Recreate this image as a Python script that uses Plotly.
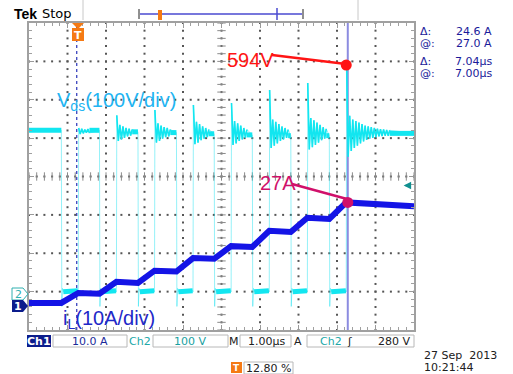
import plotly.graph_objects as go

# ---------------- data ----------------
T_START, T_END = -1.28, 8.72          # time window, microseconds (1 us/div, trigger 12.8 %)
PRE_HIGH_V = 424                       # Vds level before the first falling edge
RISE_T = [0.00, 0.99, 1.98, 2.98, 3.97, 4.96, 5.95, 6.96]     # Vds rising edges (us)
FALL_T = [-0.44, 0.55, 1.55, 2.55, 3.53, 4.52, 5.52, 6.52]    # Vds falling edges (us)
SPIKE_V = [430, 463, 477, 490, 495, 529, 547, 594]            # turn-off overshoot peaks (V)
HIGH_V = [424, 420, 418, 415, 412, 410, 410, 416]             # Vds plateau after each rise (V)
RING_V = [
    [414, 428, 416, 426, 418, 427, 417],
    [396, 438, 400, 434, 404, 430, 408, 428, 410, 426],
    [392, 442, 396, 436, 402, 432, 406, 430, 408, 426],
    [388, 446, 392, 440, 398, 434, 402, 430, 406, 426],
    [386, 448, 390, 442, 396, 436, 400, 430, 404, 426],
    [378, 452, 384, 446, 390, 440, 396, 434, 400, 430, 404, 426],
    [374, 456, 380, 450, 386, 444, 392, 438, 398, 432, 402, 428],
    [355, 462, 370, 452, 378, 448, 384, 444, 390, 440, 395, 436,
     399, 434, 402, 432, 404, 430, 406, 428, 408, 427, 409, 426,
     410, 425, 410, 424],
]
RING_DT = 0.04
LOW_V = 3
FALL_DIP_V = -35

I_T = [-1.28, -0.44, 0.00, 0.55, 0.99, 1.55, 1.98, 2.55, 2.98, 3.53,
       3.97, 4.52, 4.96, 5.52, 5.95, 6.52, 6.96, 8.72]
I_A = [0.8, 0.8, 3.4, 3.2, 6.3, 6.0, 9.2, 9.0, 12.5, 12.3,
       15.6, 15.4, 19.6, 19.3, 23.0, 22.7, 27.0, 26.0]

PEAK_LABEL_V = 594
PEAK_LABEL_A = 27
CURSOR_T = [7.00, -0.04]
TRIG_LEVEL_V = 280

CYAN = "#12e6f0"
CYAN_FAINT = "rgba(20,225,240,0.45)"
BLUE = "#1414e6"

# ---------------- build Vds waveform from key points ----------------
vt, vv = [T_START], [PRE_HIGH_V]
rt, rv = [], []                      # spikes + ringing
pt, pv = [T_START], [PRE_HIGH_V]     # plateaus (thick band)
prev_high = PRE_HIGH_V
for i in range(len(RISE_T)):
    f, r = FALL_T[i], RISE_T[i]
    vt += [f, f + 0.012, f + 0.03, f + 0.06, r - 0.01]
    vv += [prev_high, FALL_DIP_V, 12, LOW_V, LOW_V + 4]
    pt += [f, None, f + 0.05, r - 0.01, None]
    pv += [prev_high, None, LOW_V, LOW_V + 3, None]
    vt += [r, r + 0.01]
    vv += [LOW_V, SPIKE_V[i]]
    rt += [r + 0.01]
    rv += [SPIKE_V[i]]
    for k, val in enumerate(RING_V[i]):
        vt.append(r + 0.01 + (k + 1) * RING_DT)
        vv.append(val)
        rt.append(r + 0.01 + (k + 1) * RING_DT)
        rv.append(val)
    rt.append(None)
    rv.append(None)
    ring_end = r + 0.01 + len(RING_V[i]) * RING_DT
    pt += [ring_end]
    pv += [HIGH_V[i]]
    prev_high = HIGH_V[i]
vt.append(T_END)
vv.append(prev_high)
pt.append(T_END)
pv.append(prev_high)

# ---------------- geometry helpers (pixel -> paper) ----------------
L, R, T, B = 29, 414, 23, 330
def PX(x):
    return (x - L) / (R - L)
def PY(y):
    return (B - y) / (B - T)

fig = go.Figure()

# dotted graticule (decoration, division units): dots every 0.2 div along each grid line
gx_pts, gy_pts = [], []
for gx in range(-4, 5):
    for k in range(-20, 21):
        gx_pts.append(gx)
        gy_pts.append(k * 0.2)
for gy in range(-3, 4):
    for k in range(-25, 26):
        gx_pts.append(k * 0.2)
        gy_pts.append(gy)
fig.add_trace(go.Scatter(x=gx_pts, y=gy_pts, mode="markers",
                         marker=dict(symbol="square", size=2, color="#555555", line=dict(width=0)),
                         xaxis="x", yaxis="y", hoverinfo="skip"))
# centre-line tick marks
fig.add_trace(go.Scatter(x=[k * 0.2 for k in range(-25, 26)], y=[0] * 51, mode="markers",
                         marker=dict(symbol="line-ns", size=6, line=dict(width=1, color="#8a8a8a")),
                         xaxis="x", yaxis="y", hoverinfo="skip"))
fig.add_trace(go.Scatter(x=[0] * 41, y=[k * 0.2 for k in range(-20, 21)], mode="markers",
                         marker=dict(symbol="line-ew", size=6, line=dict(width=1, color="#8a8a8a")),
                         xaxis="x", yaxis="y", hoverinfo="skip"))

# Vds
fig.add_trace(go.Scatter(x=vt, y=vv, mode="lines", line=dict(color=CYAN_FAINT, width=1),
                         xaxis="x2", yaxis="y2", hoverinfo="skip"))
fig.add_trace(go.Scatter(x=pt, y=pv, mode="lines", line=dict(color=CYAN, width=5),
                         xaxis="x2", yaxis="y2", hoverinfo="skip", connectgaps=False))
fig.add_trace(go.Scatter(x=rt, y=rv, mode="lines", line=dict(color=CYAN, width=1.6),
                         xaxis="x2", yaxis="y2", hoverinfo="skip", connectgaps=False))
# iL
fig.add_trace(go.Scatter(x=I_T, y=I_A, mode="lines", line=dict(color=BLUE, width=6),
                         xaxis="x2", yaxis="y3", hoverinfo="skip"))

# annotation dots
fig.add_trace(go.Scatter(x=[RISE_T[-1]], y=[PEAK_LABEL_V], mode="markers",
                         marker=dict(color="#ff1414", size=11), xaxis="x2", yaxis="y2"))
fig.add_trace(go.Scatter(x=[CURSOR_T[0]], y=[PEAK_LABEL_A], mode="markers",
                         marker=dict(color="#d0106a", size=11), xaxis="x2", yaxis="y3"))

shapes = []
# cursors
shapes.append(dict(type="line", xref="x2", yref="paper", x0=CURSOR_T[0], x1=CURSOR_T[0], y0=0, y1=1,
                   line=dict(color="#8c8ce0", width=2), layer="below"))
shapes.append(dict(type="line", xref="x2", yref="paper", x0=CURSOR_T[1], x1=CURSOR_T[1], y0=0, y1=1,
                   line=dict(color="#2a34b8", width=1.2, dash="3px,3px"), layer="below"))
# annotation leader lines
shapes.append(dict(type="line", xref="paper", yref="paper", x0=PX(272), y0=PY(55), x1=PX(346), y1=PY(64),
                   line=dict(color="#ff1414", width=2.5)))
shapes.append(dict(type="line", xref="paper", yref="paper", x0=PX(292), y0=PY(184), x1=PX(347), y1=PY(199),
                   line=dict(color="#d0106a", width=2.5)))
# trigger T marker (top)
shapes.append(dict(type="path", xref="paper", yref="paper",
                   path=f"M {PX(72)},{PY(23)} L {PX(84)},{PY(23)} L {PX(78)},{PY(29)} Z",
                   fillcolor="#f57a14", line=dict(width=0)))
shapes.append(dict(type="rect", xref="paper", yref="paper", x0=PX(72), x1=PX(84), y0=PY(28), y1=PY(41),
                   fillcolor="#f57a14", line=dict(width=0)))
# channel ground markers
shapes.append(dict(type="path", xref="paper", yref="paper",
                   path=f"M {PX(12)},{PY(288)} L {PX(23)},{PY(288)} L {PX(28)},{PY(294)} L {PX(23)},{PY(300)} L {PX(12)},{PY(300)} Z",
                   fillcolor="white", line=dict(color="#30b0b0", width=1)))
shapes.append(dict(type="path", xref="paper", yref="paper",
                   path=f"M {PX(12)},{PY(300)} L {PX(23)},{PY(300)} L {PX(28)},{PY(306)} L {PX(23)},{PY(312)} L {PX(12)},{PY(312)} Z",
                   fillcolor="#0b1c8c", line=dict(width=0)))
# top bar
for xx in (83, 358):
    shapes.append(dict(type="line", xref="paper", yref="paper", x0=PX(xx), x1=PX(xx), y0=PY(0), y1=PY(20),
                       line=dict(color="#c8c8c8", width=1)))
shapes.append(dict(type="line", xref="paper", yref="paper", x0=PX(140), x1=PX(302), y0=PY(14), y1=PY(14),
                   line=dict(color="#4a4ad0", width=1.5)))
for xx in (139, 303):
    shapes.append(dict(type="line", xref="paper", yref="paper", x0=PX(xx), x1=PX(xx), y0=PY(9), y1=PY(19),
                       line=dict(color="#202020", width=1)))
shapes.append(dict(type="line", xref="paper", yref="paper", x0=PX(277), x1=PX(277), y0=PY(8), y1=PY(20),
                   line=dict(color="#4a4ad0", width=1.5)))
shapes.append(dict(type="rect", xref="paper", yref="paper", x0=PX(158), x1=PX(162), y0=PY(10), y1=PY(20),
                   fillcolor="#f57a14", line=dict(width=0)))
# status bar boxes
shapes.append(dict(type="rect", xref="paper", yref="paper", x0=PX(27), x1=PX(51), y0=PY(335), y1=PY(347),
                   fillcolor="#0b1c8c", line=dict(width=0)))
for x0, x1 in ((53, 127), (153, 228), (240, 291), (307, 414), (244, 293)):
    yy0, yy1 = (335, 347) if x0 != 244 else (362, 374)
    shapes.append(dict(type="rect", xref="paper", yref="paper", x0=PX(x0), x1=PX(x1), y0=PY(yy0), y1=PY(yy1),
                       fillcolor="white", line=dict(color="#b8b8b8", width=1)))
shapes.append(dict(type="rect", xref="paper", yref="paper", x0=PX(231), x1=PX(242), y0=PY(362), y1=PY(373),
                   fillcolor="#f57a14", line=dict(width=0)))

ann = []
def txt(x, y, s, color="#1a1a9a", size=12, anchor="left", family="DejaVu Sans", bold=False):
    ann.append(dict(xref="paper", yref="paper", x=PX(x), y=PY(y), text=f"<b>{s}</b>" if bold else s,
                    showarrow=False, xanchor=anchor, yanchor="middle",
                    font=dict(color=color, size=size, family=family)))

txt(225, 60, "594V", color="#ff1414", size=20, family="Liberation Sans")
txt(258, 183, "27A", color="#d0106a", size=20, family="Liberation Sans")
txt(55, 101, "V<sub>ds</sub>(100V/div)", color="#22b4f2", size=20, family="Liberation Sans")
txt(61, 319, "i<sub>L</sub>(10A/div)", color="#1e28c8", size=20, family="Liberation Sans")
# readouts
for y, a, b in ((31, "Δ:", "24.6 A"), (43, "@:", "27.0 A"), (62, "Δ:", "7.04µs"), (74, "@:", "7.00µs")):
    txt(418, y, a, size=11)
    txt(494, y, b, size=11, anchor="right")
# top bar text
txt(12, 14, "Tek", color="#000000", size=14, family="Liberation Sans", bold=True)
txt(40, 14, "Stop", color="#000000", size=13, family="DejaVu Sans")
# markers text
txt(78, 35, "T", color="white", size=11, anchor="center", bold=True)
txt(18, 294, "2", color="#30b0b0", size=11, anchor="center")
txt(18, 306, "1", color="white", size=11, anchor="center", bold=True)
txt(236.5, 368, "T", color="white", size=9, anchor="center", bold=True)
# status bar text
txt(39, 341, "Ch1", color="white", size=11, anchor="center", bold=True)
txt(90, 341, "10.0 A", color="#1a2a9a", size=11, anchor="center")
txt(140, 341, "Ch2", color="#20a8a8", size=11, anchor="center")
txt(190, 341, "100 V", color="#18a0a0", size=11, anchor="center")
txt(234, 341, "M", color="#202020", size=11, anchor="center")
txt(266, 341, "1.00µs", color="#202020", size=11, anchor="center")
txt(298, 341, "A", color="#202020", size=11, anchor="center")
txt(331, 341, "Ch2", color="#20a8a8", size=11, anchor="center")
txt(349, 341, "ʃ", color="#202020", size=11, anchor="center")
txt(412, 341, "280 V", color="#202020", size=11, anchor="right")
txt(268, 368, "12.80 %", color="#202020", size=11, anchor="center")
txt(422, 355, "27 Sep  2013", color="#202020", size=11)
txt(422, 367, "10:21:44", color="#202020", size=11)

# trigger level arrow (right edge)
ann.append(dict(xref="x2", yref="y2", x=8.45, y=TRIG_LEVEL_V, ax=8.62, ay=TRIG_LEVEL_V,
                axref="x2", ayref="y2", showarrow=True, arrowhead=2, arrowsize=1, arrowwidth=1.5,
                arrowcolor="#109090", text=""))

frame_axis = dict(showgrid=False, zeroline=False, showticklabels=False, ticks="inside", ticklen=5,
                  tickcolor="#9a9a9a", dtick=1, tick0=0, showline=True, linecolor="#a0a0a0",
                  linewidth=2, mirror="ticks",
                  minor=dict(dtick=0.2, ticks="inside", ticklen=3, tickcolor="#a0a0a0", showgrid=False))

fig.update_layout(
    width=513, height=374,
    margin=dict(l=L, r=513 - R, t=T, b=374 - B),
    paper_bgcolor="white", plot_bgcolor="white",
    showlegend=False,
    xaxis=dict(range=[-5, 5], **frame_axis),
    yaxis=dict(range=[-4, 4], **frame_axis),
    xaxis2=dict(range=[T_START, T_END], overlaying="x", visible=False),
    yaxis2=dict(range=[-96.4, 703.6], overlaying="y", visible=False),
    yaxis3=dict(range=[-6.25, 73.75], overlaying="y", visible=False),
    shapes=shapes,
    annotations=ann,
)

fig.write_html("out.html")
